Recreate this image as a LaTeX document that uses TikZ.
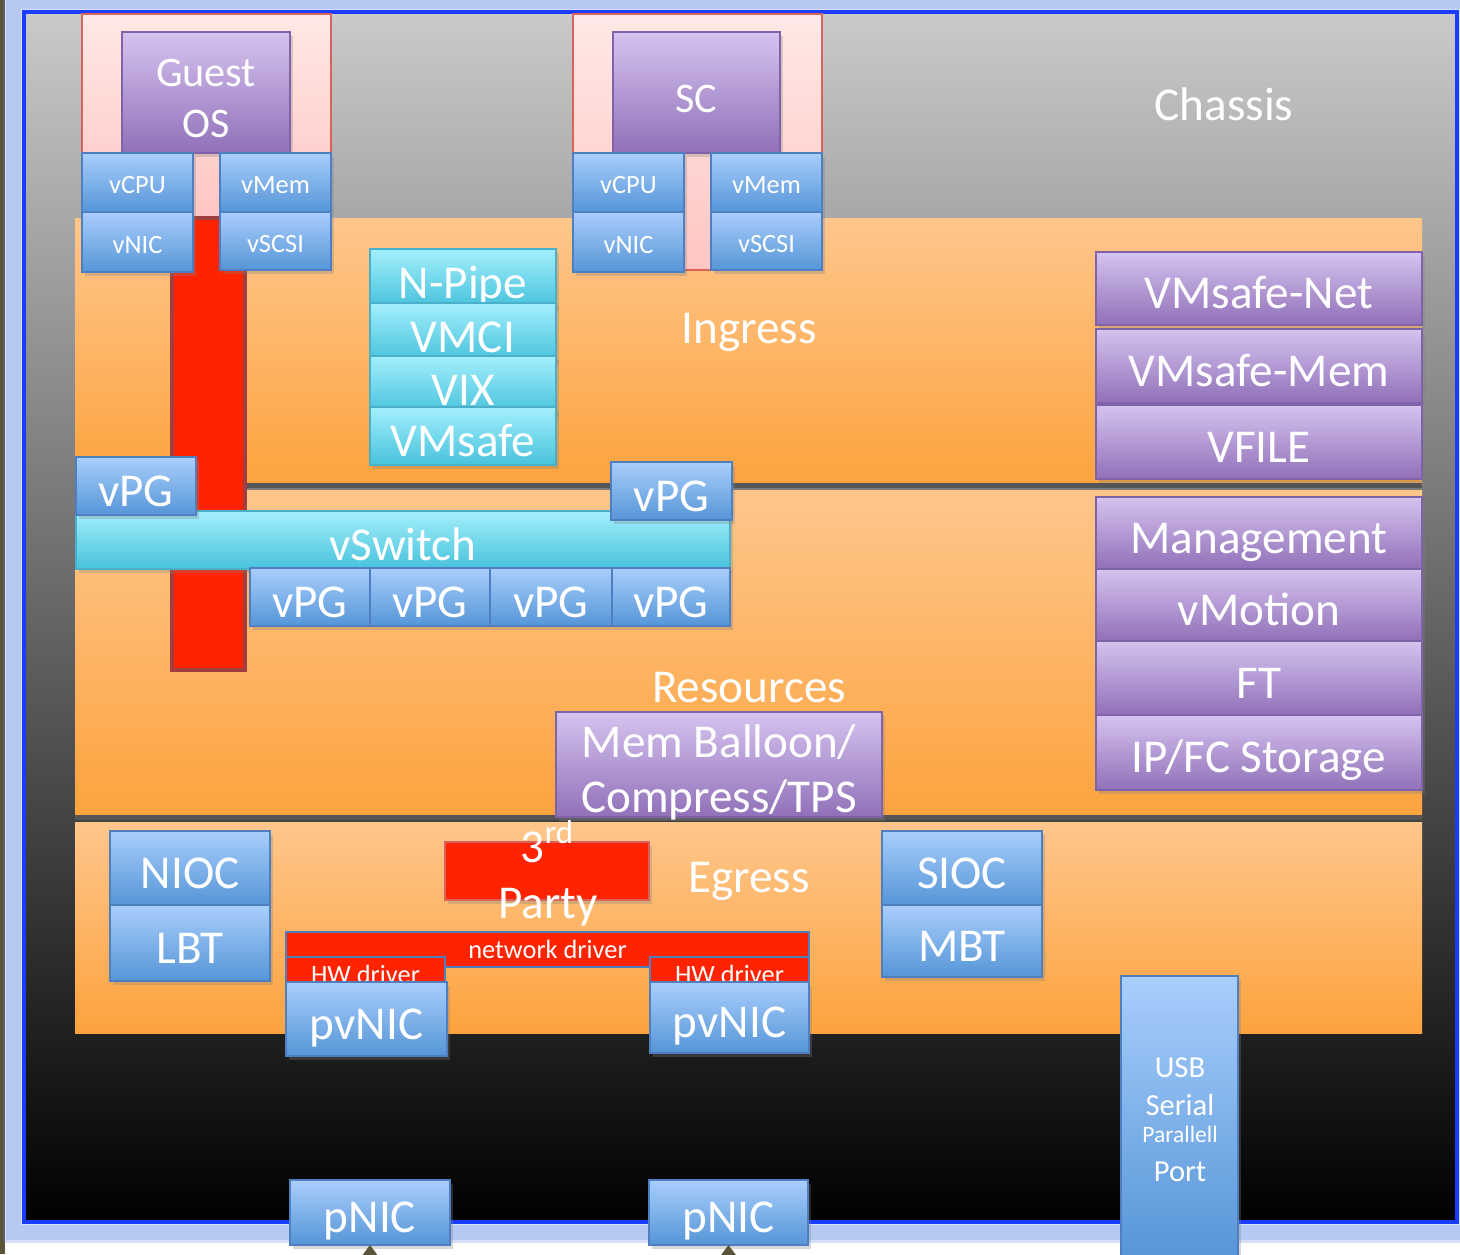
\documentclass[tikz,border=0pt]{standalone}
\usepackage{fontspec}
\setmainfont{Carlito}
\usetikzlibrary{shadows,arrows.meta}

% colours
\definecolor{chassistop}{HTML}{CACACA}
\definecolor{chassisedge}{HTML}{1A3CFF}
\definecolor{glowblue}{HTML}{5B86E5}
\definecolor{olivestrip}{HTML}{5A5438}
\definecolor{orangetop}{HTML}{FFC68C}
\definecolor{orangebot}{HTML}{FCA33E}
\definecolor{sepgray}{HTML}{555555}
\definecolor{pinktop}{HTML}{FFE9E6}
\definecolor{pinkbot}{HTML}{FFC5C2}
\definecolor{pinkedge}{HTML}{D8625C}
\definecolor{purpletop}{HTML}{D6C3F0}
\definecolor{purplebot}{HTML}{9070B8}
\definecolor{purpleedge}{HTML}{7F62A8}
\definecolor{bluetop}{HTML}{A9CEFC}
\definecolor{bluebot}{HTML}{5595D7}
\definecolor{blueedge}{HTML}{4F7FC0}
\definecolor{cyantop}{HTML}{A3EFFC}
\definecolor{cyanbot}{HTML}{47C2DC}
\definecolor{cyanedge}{HTML}{4AAFC8}
\definecolor{hwred}{HTML}{FF2300}
\definecolor{baredge}{HTML}{A33E3E}

% fonts
\newcommand\fbig{\fontsize{13.4}{15.6}\selectfont}
\newcommand\fvm{\fontsize{12}{14.5}\selectfont}
\newcommand\fsmall{\fontsize{7.5}{9}\selectfont}
\newcommand\fport{\fontsize{8.7}{10.4}\selectfont}
\newcommand\fpar{\fontsize{6.7}{8}\selectfont}

\tikzset{
  wh/.style 2 args={minimum width=#1*0.01cm, minimum height=#2*0.01cm},
  box/.style={inner sep=0pt, outer sep=0pt, anchor=north west, align=center, text=white,
              font=\fbig, text height=14pt, text depth=2.6pt},
  smalltext/.style={font=\fsmall, text height=7.8pt, text depth=1.4pt},
  shadowed/.style={drop shadow={opacity=0.3, shadow xshift=0.03cm, shadow yshift=-0.04cm}},
  bluebox/.style={box, shadowed, draw=blueedge, line width=0.6pt, top color=bluetop, bottom color=bluebot},
  purplebox/.style={box, shadowed, draw=purpleedge, line width=0.6pt, top color=purpletop, bottom color=purplebot},
  cyanbox/.style={box, shadowed, draw=cyanedge, line width=0.6pt, top color=cyantop, bottom color=cyanbot},
  redbox/.style={box, smalltext, text height=7.4pt, text depth=2.6pt, fill=hwred, draw=blueedge, line width=0.6pt},
  layer/.style={box, top color=orangetop, bottom color=orangebot},
  vmframe/.style={box, draw=pinkedge, line width=0.5pt, top color=pinktop, bottom color=pinkbot},
  label/.style={text=white, font=\fbig, inner sep=0pt},
  line/.style={label, anchor=base},
}

\begin{document}
\begin{tikzpicture}[x=0.01cm, y=-0.01cm]
  \useasboundingbox (0,0) rectangle (1460,1254);
  \clip (0,0) rectangle (1460,1254);
  % background
  \fill[white] (0,0) rectangle (1460,1254);
  \fill[olivestrip] (0,0) rectangle (5,1254);
  \foreach \d in {3,6,...,18}
    \draw[glowblue, opacity=0.25, line width=0.06cm] ({24-\d},{12-\d}) rectangle ({1457+\d},{1222+\d});
  % chassis
  \node[box, wh={1433}{1210}, top color=chassistop, bottom color=black,
        draw=chassisedge, line width=0.9pt] (chassis) at (24,12) {};
  \node[label] (chassislbl) at (1224,104) {Chassis};
  % layers
  \node[layer, wh={1347}{267}] (ingress) at (75,218) {};
  \node[layer, wh={1347}{327}] (resources) at (75,490) {};
  \node[layer, wh={1347}{211}] (egress) at (75,822) {};
  \draw[sepgray, line width=0.05cm] (ingress.south west) -- (ingress.south east)
                                    (resources.south west) -- (resources.south east);
  \node[label] (ingresslbl) at (749,332) {Ingress};
  \node[label] (resourceslbl) at (749,688) {Resources};
  \node[label] (egresslbl) at (749,881) {Egress};
  % virtual machines
  \node[vmframe, wh={249}{204}] (gosframe) at (82,14) {};
  \node[vmframe, wh={249}{256}] (scframe) at (573,14) {};
  \node[box, fill=hwred, draw=baredge, line width=1.1pt, wh={73}{452}] (redbar) at (172,218) {};
  \node[purplebox, wh={168}{121}] (gos) at (122,32) {};
  \node[line, font=\fvm] (gos-l1) at (206,86) {Guest};
  \node[line, font=\fvm] (gos-l2) at (206,137) {OS};
  \node[purplebox, font=\fvm, wh={167}{121}] (sc) at (613,32) {SC};
  \foreach \vm/\x in {gos/82, sc/573}{
    \node[bluebox, smalltext, wh={111}{59}] (vcpu-\vm) at (\x,153) {vCPU};
    \node[bluebox, smalltext, wh={111}{59}] (vmem-\vm) at (\x+138,153) {vMem};
    \node[bluebox, smalltext, wh={111}{60}] (vnic-\vm) at (\x,212) {vNIC};
    \node[bluebox, smalltext, wh={111}{58}] (vscsi-\vm) at (\x+138,212) {vSCSI};
  }
  % interfaces
  \foreach \name/\y/\h/\txt in {npipe/249/54/N-Pipe, vmci/303/49/VMCI, vix/356/51/VIX, vmsafe/407/53/VMsafe}
    \node[cyanbox, wh={186}{\h}] (\name) at (370,\y) {\txt};
  \foreach \name/\y/\h/\txt in {vmsafenet/252/73/VMsafe-Net, vmsafemem/329/74/VMsafe-Mem, vfile/405/74/VFILE,
      mgmt/497/72/Management, vmotion/569/72/vMotion, ft/641/74/FT, ipfc/715/75/{IP/FC Storage}}
    \node[purplebox, wh={326}{\h}] (\name) at (1096,\y) {\txt};
  % vswitch
  \node[cyanbox, wh={654}{57}] (vswitch) at (76,511) {vSwitch};
  \node[bluebox, wh={120}{53}] (vpg-in) at (76,457) {vPG};
  \node[bluebox, wh={121}{51}] (vpg-up) at (611,462) {vPG};
  \foreach \i/\x/\w in {1/250/120, 2/370/120, 3/490/122, 4/612/118}
    \node[bluebox, wh={\w}{52}] (vpg-\i) at (\x,568) {vPG};
  \node[purplebox, wh={326}{105}] (balloon) at (556,712) {};
  \node[line] (balloon-l1) at (719,757) {Mem Balloon/};
  \node[line] (balloon-l2) at (719,812) {Compress/TPS};
  % egress
  \node[bluebox, wh={160}{74}] (nioc) at (110,831) {NIOC};
  \node[bluebox, wh={160}{76}] (lbt) at (110,905) {LBT};
  \node[bluebox, wh={160}{74}] (sioc) at (882,831) {SIOC};
  \node[bluebox, wh={160}{72}] (mbt) at (882,905) {MBT};
  \node[box, shadowed, fill=hwred, draw=pinkedge, line width=0.6pt, wh={204}{58}] (thirdparty) at (445,842) {};
  \node[line] (third-l1) at (548,862) {3\textsuperscript{rd}};
  \node[line] (third-l2) at (548,918) {Party};
  \node[redbox, wh={523}{25}] (netdrv) at (286,932) {network driver};
  \node[redbox, wh={159}{25}] (hwdrv-a) at (286,957) {HW driver};
  \node[redbox, wh={159}{25}] (hwdrv-b) at (650,957) {HW driver};
  \node[bluebox, wh={161}{74}] (pvnic-a) at (286,982) {pvNIC};
  \node[bluebox, wh={159}{71}] (pvnic-b) at (650,982) {pvNIC};
  % ports
  \node[bluebox, wh={117}{284}] (ports) at (1121,976) {};
  \foreach \i/\y/\f/\txt in {1/1077/\fport/USB, 2/1115/\fport/Serial, 3/1142/\fpar/Parallell, 4/1181/\fport/Port}
    \node[line, font=\f] (ports-l\i) at (1180,\y) {\txt};
  \node[bluebox, wh={160}{65}] (pnic-a) at (290,1180) {pNIC};
  \node[bluebox, wh={159}{65}] (pnic-b) at (649,1180) {pNIC};
  \coordinate (wire-a) at (370,1320);
  \coordinate (wire-b) at (728.5,1320);
  \draw[olivestrip, -{Triangle[width=0.16cm, length=0.11cm]}] (wire-a) -- (pnic-a.south);
  \draw[olivestrip, -{Triangle[width=0.16cm, length=0.11cm]}] (wire-b) -- (pnic-b.south);
\end{tikzpicture}
\end{document}
